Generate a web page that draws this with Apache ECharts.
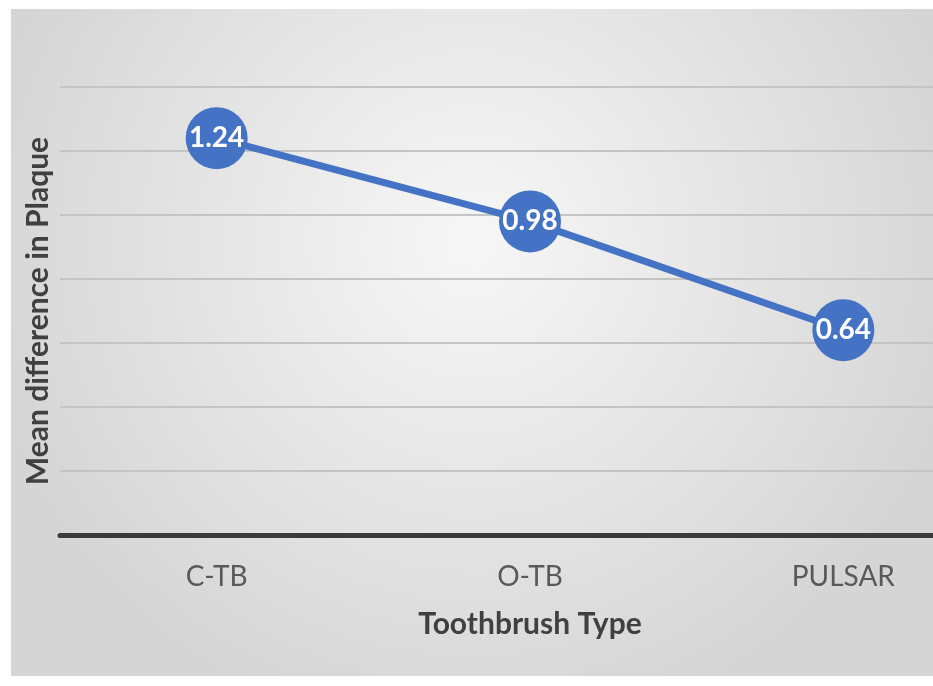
<!DOCTYPE html>
<html>
<head>
<meta charset="utf-8">
<style>
  html, body { margin: 0; padding: 0; background: #ffffff; }
  #chart { width: 933px; height: 686px; }
</style>
<script src="https://cdn.jsdelivr.net/npm/echarts@6/dist/echarts.min.js"></script>
</head>
<body>
<div id="chart"></div>
<script>
var brushTypes = ['C-TB', 'O-TB', 'PULSAR'];
var meanDiff = [1.24, 0.98, 0.64];
var yMin = 0, yMax = 1.4, yStep = 0.2;

var chart = echarts.init(document.getElementById('chart'));

var option = {
    animation: false,
    textStyle: { fontFamily: 'Lato, "Open Sans", sans-serif' },
    graphic: [
        {
            type: 'rect',
            z: -10,
            shape: { x: 11, y: 9, width: 922, height: 667 },
            style: {
                fill: {
                    type: 'radial', x: 0.5, y: 0.35, r: 0.75,
                    colorStops: [
                        { offset: 0, color: '#f7f7f7' },
                        { offset: 1, color: '#d5d5d5' }
                    ]
                }
            },
            silent: true
        }
    ],
    // plot runs past the right edge, as in the cropped original
    grid: { left: 60, width: 940, top: 87, bottom: 151, containLabel: false, outerBoundsMode: 'none' },
    xAxis: {
        type: 'category',
        data: brushTypes,
        boundaryGap: true,
        name: 'Toothbrush Type',
        nameLocation: 'middle',
        nameGap: 74,
        nameTextStyle: { fontSize: 30, fontWeight: 'bold', color: '#404040' },
        axisLine: { lineStyle: { color: '#3a3a3a', width: 5 } },
        axisTick: { show: false },
        axisLabel: { fontSize: 28, color: '#595959', margin: 28 }
    },
    yAxis: {
        type: 'value',
        min: yMin,
        max: yMax,
        interval: yStep,
        name: 'Mean difference in Plaque',
        nameLocation: 'middle',
        nameGap: 7,
        nameTextStyle: { fontSize: 30, fontWeight: 'bold', color: '#404040' },
        axisLine: { show: false },
        axisTick: { show: false },
        axisLabel: { show: false },
        splitLine: { lineStyle: { color: '#c4c4c4', width: 2 } }
    },
    series: [
        {
            type: 'line',
            data: meanDiff,
            symbol: 'circle',
            symbolSize: 62,
            lineStyle: { color: '#4472C4', width: 7 },
            itemStyle: { color: '#4472C4' },
            label: {
                show: true,
                position: 'inside',
                color: '#ffffff',
                fontSize: 28,
                fontWeight: 'bold',
                formatter: function (p) { return p.value.toFixed(2); }
            }
        }
    ]
};

chart.setOption(option);
</script>
</body>
</html>
